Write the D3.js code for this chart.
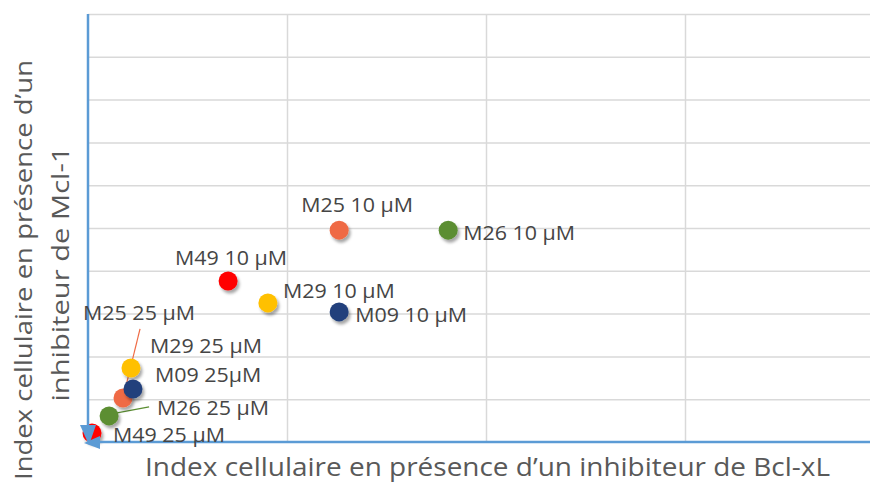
<!DOCTYPE html>
<html>
<head>
<meta charset="utf-8">
<script src="https://cdn.jsdelivr.net/npm/d3@7/dist/d3.min.js"></script>
<style>
  html, body { margin: 0; padding: 0; background: #fff; }
  svg { display: block; }
  text { font-family: "Open Sans", "Noto Sans", sans-serif; }
</style>
</head>
<body>
<svg id="chart" width="870" height="482"></svg>
<script>
// ---- data ----
const labels    = ["M25 10 µM","M26 10 µM","M49 10 µM","M29 10 µM","M09 10 µM","M29 25 µM","M25 25 µM","M09 25µM","M26 25 µM","M49 25 µM"];
const compounds = ["M25","M26","M49","M29","M09","M29","M25","M09","M26","M49"];
const xValues   = [0.631, 0.905, 0.352, 0.452, 0.631, 0.108, 0.088, 0.113, 0.053, 0.010];
const yValues   = [0.495, 0.495, 0.376, 0.325, 0.304, 0.173, 0.103, 0.124, 0.061, 0.021];
const xTicks    = [0, 0.5, 1, 1.5, 2];
const yTicks    = [0, 0.1, 0.2, 0.3, 0.4, 0.5, 0.6, 0.7, 0.8, 0.9, 1];
const xTitle    = "Index cellulaire en présence d’un inhibiteur de Bcl-xL";
const yTitle    = ["Index cellulaire en présence d’un", "inhibiteur de Mcl-1"];

// ---- styles / layout ----
const colors = { M25: "#EF6B45", M26: "#5B8E32", M49: "#FF0000", M29: "#FFC000", M09: "#22407C" };
// label offsets (text start, baseline) from the point, in px
const labelOffsets = [[-38,-18],[15,10],[-53,-16],[15,-5],[16,10],[19,-15],[-40,-78],[22,-7],[48,-1],[21,9]];
// leader lines (from, to) as offsets from the point
const leaders = { 6: [[17,-69],[2,-8]], 8: [[40,-9],[8,-3]] };

const svg = d3.select("#chart");
const x = d3.scaleLinear().domain([0, 2]).range([88, 884]);
const y = d3.scaleLinear().domain([0, 1]).range([442, 14]);

const defs = svg.append("defs");
const f = defs.append("filter").attr("id", "shadow").attr("x", "-50%").attr("y", "-50%").attr("width", "200%").attr("height", "200%");
f.append("feDropShadow").attr("dx", 2).attr("dy", 3).attr("stdDeviation", 1.8)
  .attr("flood-color", "#000").attr("flood-opacity", 0.35);

// gridlines
const grid = svg.append("g");
grid.append("g")
  .attr("transform", `translate(${x(0)},0)`)
  .call(d3.axisLeft(y).tickValues(yTicks.filter(v => v > 0)).tickSize(-(870 - x(0))).tickFormat(""))
  .call(g => g.select(".domain").remove())
  .call(g => g.selectAll("line").attr("stroke", "#D9D9D9").attr("stroke-width", 1.5));
grid.append("g")
  .attr("transform", `translate(0,${y(1)})`)
  .call(d3.axisBottom(x).tickValues(xTicks.filter(v => v > 0)).tickSize(y(0) - y(1)).tickFormat(""))
  .call(g => g.select(".domain").remove())
  .call(g => g.selectAll("line").attr("stroke", "#D9D9D9").attr("stroke-width", 1.5));

// leader lines
const pts = labels.map((l, i) => ({ label: l, c: compounds[i], px: x(xValues[i]), py: y(yValues[i]), i }));
Object.keys(leaders).forEach(k => {
  const p = pts[+k], L = leaders[k];
  svg.append("line")
    .attr("x1", p.px + L[0][0]).attr("y1", p.py + L[0][1])
    .attr("x2", p.px + L[1][0]).attr("y2", p.py + L[1][1])
    .attr("stroke", colors[p.c]).attr("stroke-width", 1.2);
});

// points
svg.append("g").selectAll("circle").data(pts).join("circle")
  .attr("cx", d => d.px).attr("cy", d => d.py).attr("r", 9.5)
  .attr("fill", d => colors[d.c]).attr("filter", "url(#shadow)");

// axes lines with arrowheads at the origin
const ox = x(0), oy = y(0);
svg.append("line").attr("x1", ox).attr("y1", oy - 14).attr("x2", ox).attr("y2", y(1))
  .attr("stroke", "#5B9BD5").attr("stroke-width", 2.5);
svg.append("line").attr("x1", ox + 8).attr("y1", oy).attr("x2", 870).attr("y2", oy)
  .attr("stroke", "#5B9BD5").attr("stroke-width", 2.5);
svg.append("path")
  .attr("d", `M${ox - 8},${oy - 17} L${ox + 8},${oy - 17} L${ox + 1},${oy + 3} Z`)
  .attr("fill", "#5B9BD5");
svg.append("path")
  .attr("d", `M${ox + 12},${oy - 6} L${ox + 12},${oy + 7} L${ox - 4},${oy + 1} Z`)
  .attr("fill", "#5B9BD5");

// labels
const FS = 19.5;
const lab = svg.append("g").selectAll("text").data(pts).join("text")
  .attr("font-size", FS).attr("fill", "#454545")
  .text(d => d.label);
// horizontal stretch so that the label widths match the picture
const probe = svg.append("text").attr("font-size", FS).text("M25 10 µM");
const k = 112 / probe.node().getComputedTextLength();
probe.remove();
lab.attr("transform", d => `translate(${d.px + labelOffsets[d.i][0]},${d.py + labelOffsets[d.i][1]}) scale(${k},1)`);

// axis titles
svg.append("text").attr("x", 145).attr("y", 476).attr("font-size", 25.5).attr("fill", "#595959")
  .attr("textLength", 685).attr("lengthAdjust", "spacingAndGlyphs").text(xTitle);
svg.append("text").attr("transform", "translate(32,270) rotate(-90)").attr("text-anchor", "middle")
  .attr("font-size", 23).attr("fill", "#595959")
  .attr("textLength", 420).attr("lengthAdjust", "spacingAndGlyphs").text(yTitle[0]);
svg.append("text").attr("transform", "translate(69,274) rotate(-90)").attr("text-anchor", "middle")
  .attr("font-size", 23).attr("fill", "#595959")
  .attr("textLength", 255).attr("lengthAdjust", "spacingAndGlyphs").text(yTitle[1]);
</script>
</body>
</html>
